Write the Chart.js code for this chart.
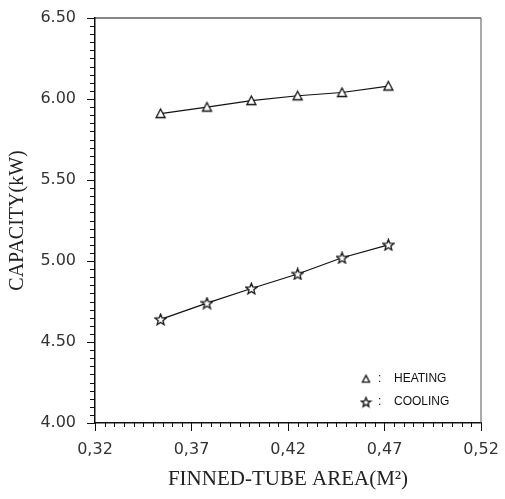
<!DOCTYPE html>
<html>
<head>
<meta charset="utf-8">
<script src="https://cdn.jsdelivr.net/npm/chart.js@4/dist/chart.umd.min.js"></script>
<style>
  html, body { margin: 0; padding: 0; background: #fff; }
  #wrap { width: 505px; height: 499px; }
</style>
</head>
<body>
<div id="wrap"><canvas id="chartCanvas" width="505" height="499"></canvas></div>
<script>
// finned-tube area (m2) and capacity (kW)
const area = [0.354, 0.378, 0.401, 0.425, 0.448, 0.472];
const heating = [5.91, 5.95, 5.99, 6.02, 6.04, 6.08];
const cooling = [4.64, 4.74, 4.83, 4.92, 5.02, 5.10];
const xTicks = [0.32, 0.37, 0.42, 0.47, 0.52];
const yTicks = [4.00, 4.50, 5.00, 5.50, 6.00, 6.50];
const seriesNames = ["HEATING", "COOLING"];

// hollow marker images
function makeMarker(shape, s) {
  const c = document.createElement("canvas");
  c.width = 13;
  c.height = 13;
  const g = c.getContext("2d");
  g.beginPath();
  if (shape === "triangle") {
    g.moveTo(6.5, 6.5 - 4.5 * s);
    g.lineTo(6.5 + 4.5 * s, 6.5 + 4 * s);
    g.lineTo(6.5 - 4.5 * s, 6.5 + 4 * s);
  } else {
    for (let i = 0; i < 10; i++) {
      const r = (i % 2 === 0 ? 5.8 : 2.5) * s;
      const a = -Math.PI / 2 + (i * Math.PI) / 5;
      const px = 6.5 + r * Math.cos(a);
      const py = 7 + r * Math.sin(a);
      if (i === 0) g.moveTo(px, py);
      else g.lineTo(px, py);
    }
  }
  g.closePath();
  g.fillStyle = "#fff";
  g.fill();
  g.lineWidth = 1.3;
  g.strokeStyle = "#111";
  g.stroke();
  return c;
}

const triangle = makeMarker("triangle", 1);
const star = makeMarker("star", 1);
const legendMarks = [makeMarker("triangle", 0.8), makeMarker("star", 0.85)];

// ticks, frame and legend
const framePlugin = {
  id: "frame",
  afterDraw(chart) {
    const { ctx, chartArea } = chart;
    const xs = chart.scales.x;
    const ys = chart.scales.y;
    ctx.save();
    ctx.strokeStyle = "#111";
    ctx.lineWidth = 1.2;
    ctx.beginPath();
    ctx.moveTo(chartArea.left, chartArea.top);
    ctx.lineTo(chartArea.right, chartArea.top);
    ctx.stroke();
    ctx.strokeStyle = "#555";
    ctx.lineWidth = 1;
    ctx.beginPath();
    ctx.moveTo(chartArea.right, chartArea.top);
    ctx.lineTo(chartArea.right, chartArea.bottom);
    ctx.stroke();

    ctx.strokeStyle = "#111";
    ctx.lineWidth = 1;
    ctx.beginPath();
    for (let i = 0; i <= 50; i++) {
      const y = Math.round(ys.getPixelForValue(4 + i * 0.05)) + 0.5;
      const len = i % 10 === 0 ? 8 : 5;
      ctx.moveTo(chartArea.left - len, y);
      ctx.lineTo(chartArea.left, y);
    }
    for (let i = 0; i <= 40; i++) {
      const x = Math.round(xs.getPixelForValue(0.32 + i * 0.005)) + 0.5;
      const len = i % 10 === 0 ? 8 : 4;
      ctx.moveTo(x, chartArea.bottom);
      ctx.lineTo(x, chartArea.bottom + len);
    }
    ctx.stroke();

    // legend in the lower right corner
    const lx = chartArea.right - 115;
    const rows = [chartArea.bottom - 44, chartArea.bottom - 21];
    ctx.font = "12px 'Liberation Sans', Arial, sans-serif";
    ctx.fillStyle = "#111";
    ctx.textBaseline = "middle";
    rows.forEach((y, i) => {
      ctx.drawImage(legendMarks[i], lx - 6.5, y - 6.5);
      ctx.fillText(":", lx + 12, y);
      ctx.fillText(seriesNames[i], lx + 28, y);
    });
    ctx.restore();
  }
};

const ctx = document.getElementById("chartCanvas").getContext("2d");
new Chart(ctx, {
  type: "scatter",
  data: {
    datasets: [
      {
        label: seriesNames[0],
        data: area.map((a, i) => ({ x: a, y: heating[i] })),
        showLine: true,
        borderColor: "#111",
        borderWidth: 1.2,
        pointStyle: triangle,
        pointRadius: 6
      },
      {
        label: seriesNames[1],
        data: area.map((a, i) => ({ x: a, y: cooling[i] })),
        showLine: true,
        borderColor: "#111",
        borderWidth: 1.2,
        pointStyle: star,
        pointRadius: 6
      }
    ]
  },
  options: {
    responsive: false,
    animation: false,
    layout: { padding: { left: 0, top: 18, right: 24, bottom: 0 } },
    plugins: {
      legend: { display: false },
      tooltip: { enabled: false }
    },
    scales: {
      x: {
        type: "linear",
        min: 0.32,
        max: 0.52,
        afterBuildTicks: (scale) => {
          scale.ticks = xTicks.map((v) => ({ value: v }));
        },
        afterFit: (scale) => {
          scale.height = 76;
          scale.paddingLeft = 0;
          scale.paddingRight = 0;
        },
        grid: { display: true, drawOnChartArea: false, drawTicks: false },
        border: { display: true, color: "#111", width: 1.5 },
        ticks: {
          padding: 17,
          color: "#333",
          font: { family: "'DejaVu Sans', sans-serif", size: 16 },
          callback: (v) => Number(v).toFixed(2).replace(".", ",")
        },
        title: {
          display: true,
          text: "FINNED-TUBE AREA(M²)",
          color: "#222",
          font: { family: "'Liberation Serif', 'Times New Roman', serif", size: 21 },
          padding: { top: 0, bottom: 7 }
        }
      },
      y: {
        type: "linear",
        min: 4,
        max: 6.5,
        afterBuildTicks: (scale) => {
          scale.ticks = yTicks.map((v) => ({ value: v }));
        },
        afterFit: (scale) => {
          scale.width = 95;
          scale.paddingTop = 0;
          scale.paddingBottom = 0;
        },
        grid: { display: true, drawOnChartArea: false, drawTicks: false },
        border: { display: true, color: "#111", width: 1.5 },
        ticks: {
          padding: 19,
          color: "#333",
          font: { family: "'DejaVu Sans', sans-serif", size: 16 },
          callback: (v) => Number(v).toFixed(2)
        },
        title: {
          display: true,
          text: "CAPACITY(kW)",
          color: "#222",
          font: { family: "'Liberation Serif', 'Times New Roman', serif", size: 20 },
          padding: { top: 6, bottom: 0 }
        }
      }
    }
  },
  plugins: [framePlugin]
});
</script>
</body>
</html>
